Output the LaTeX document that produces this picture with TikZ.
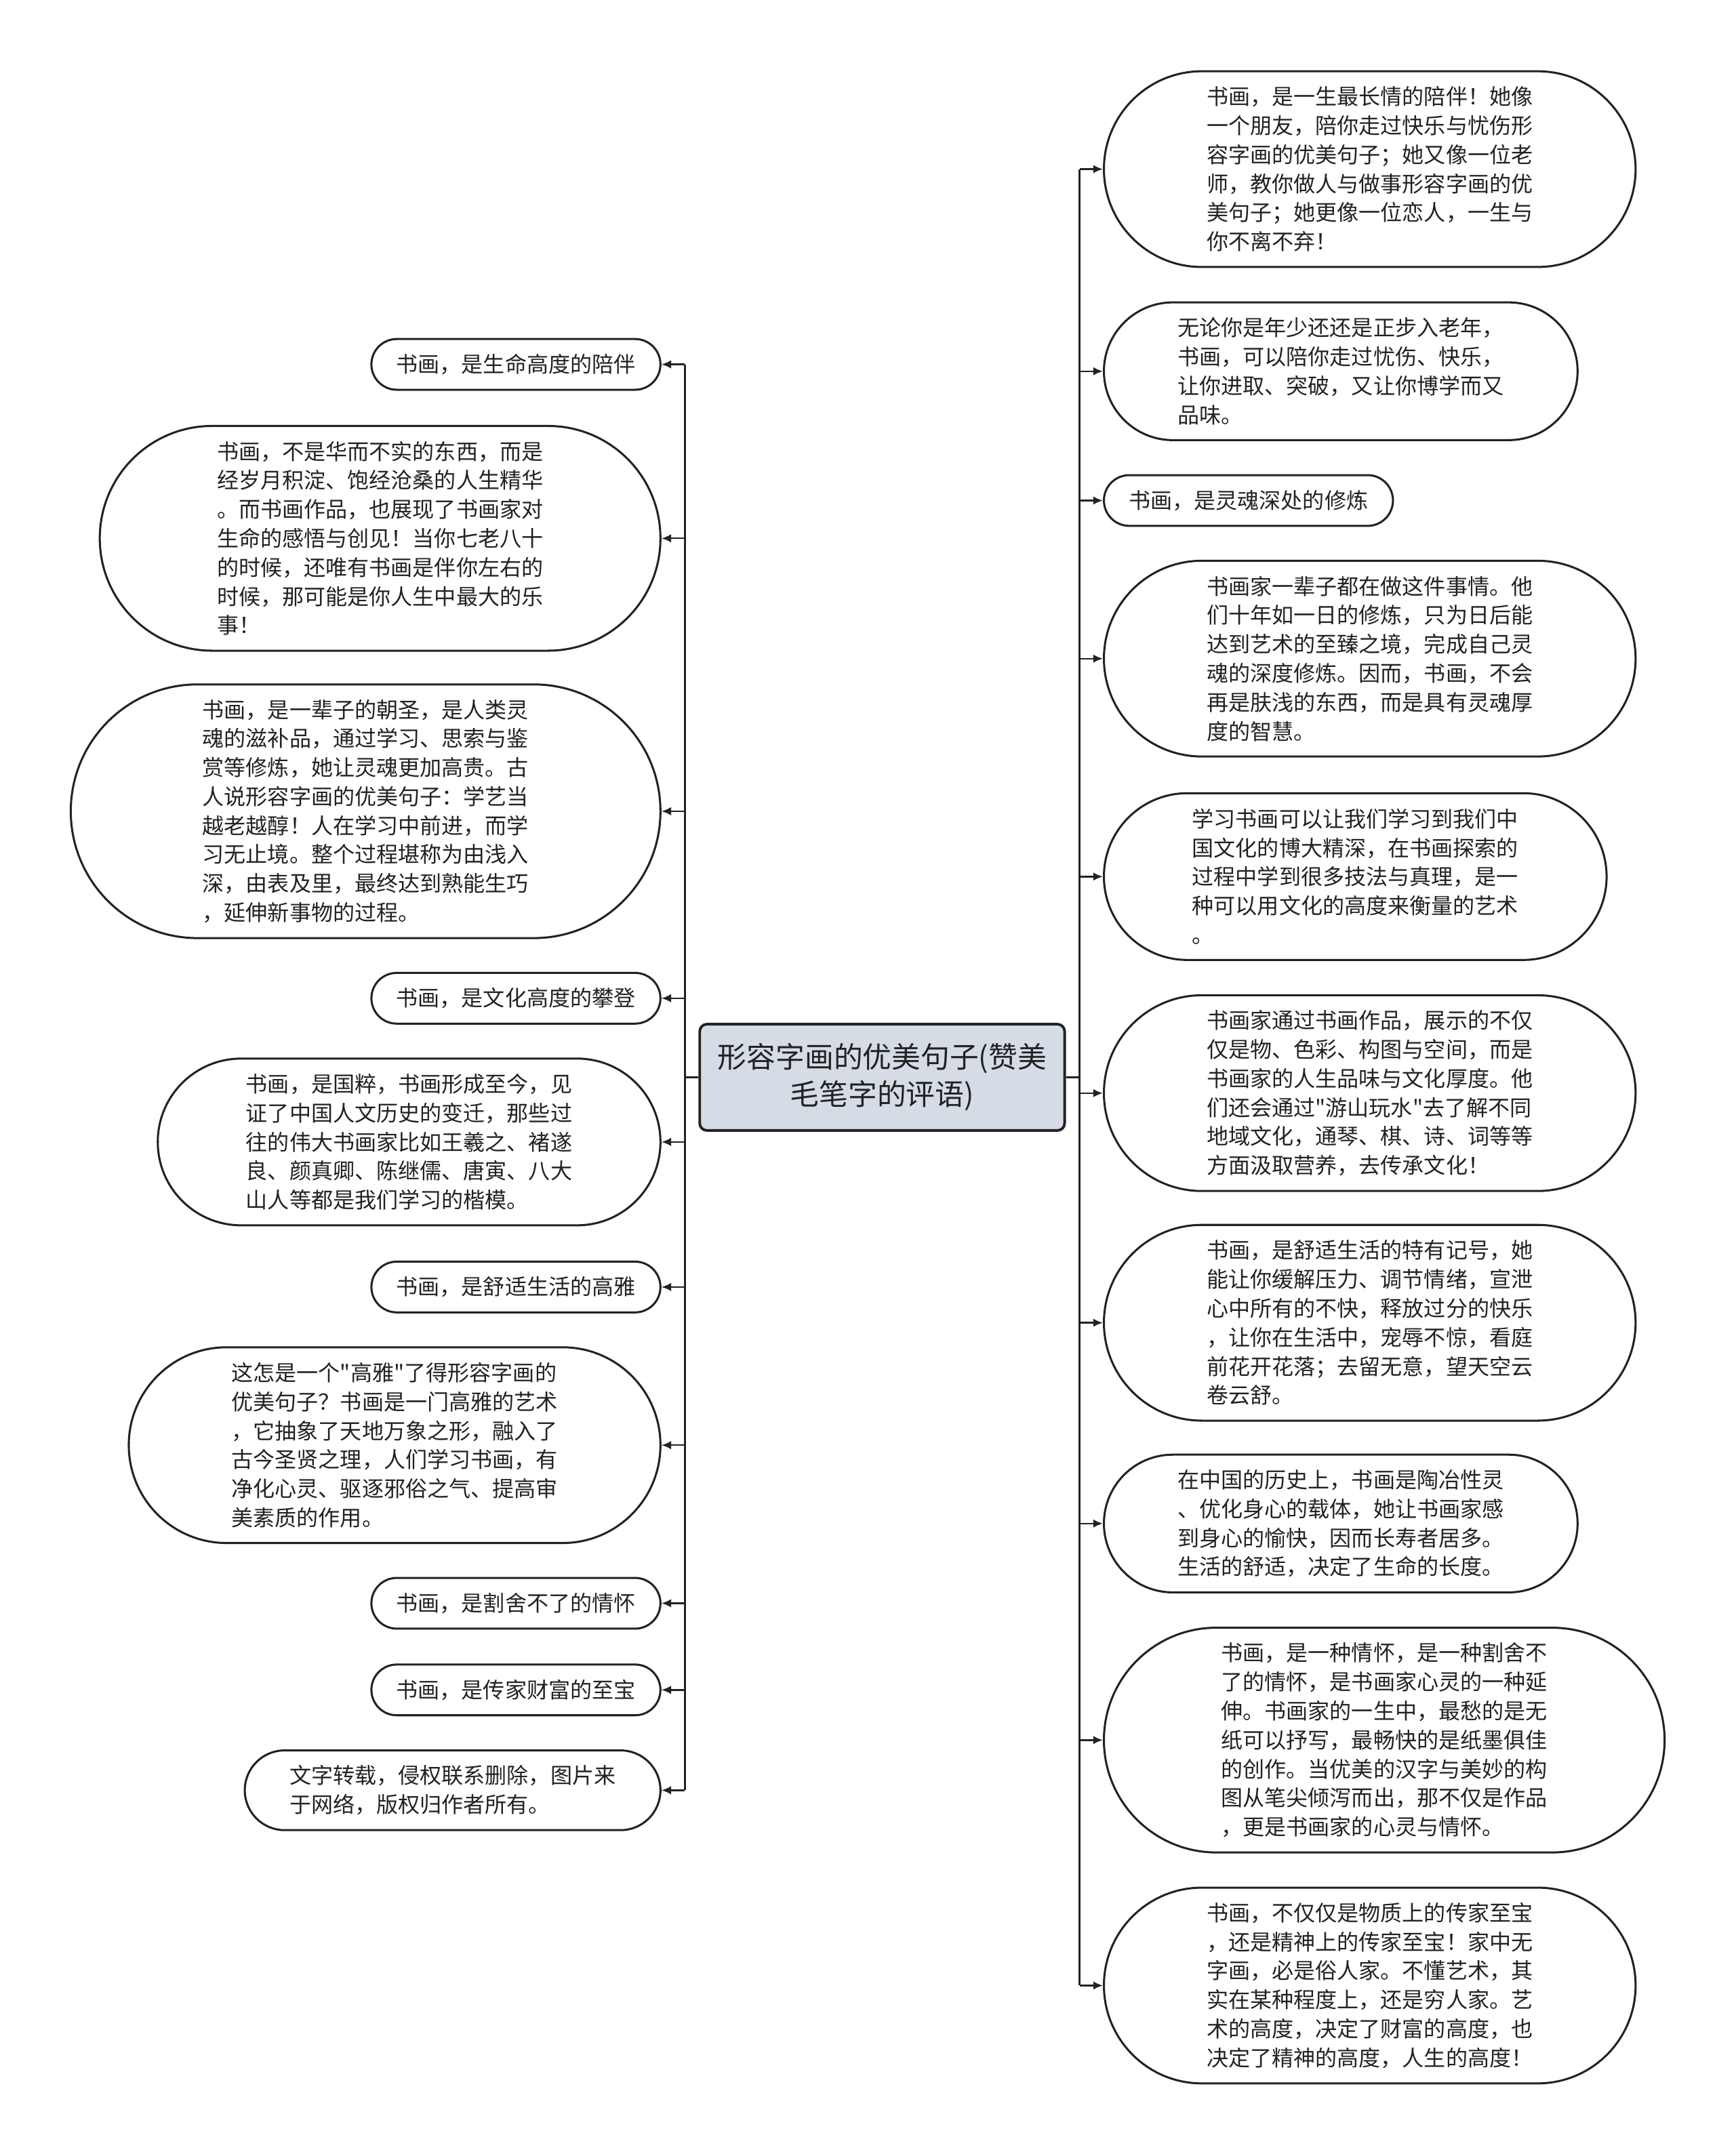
\documentclass[tikz,border=0pt]{standalone}
\usepackage{fontspec}
\setmainfont{Noto Sans CJK SC}[Ligatures=TeXOff]
\usetikzlibrary{arrows.meta}
\definecolor{ink}{HTML}{222222}
\definecolor{rootfill}{HTML}{D5DCE6}

\begin{document}
\begin{tikzpicture}[x=0.2mm,y=-0.2mm,
  leaf/.style={draw=ink,line width=0.85pt,rectangle,align=left,
    inner ysep=0pt,text=ink,font=\fontsize{9}{12}\selectfont},
  rows/.style={minimum height={(#1-1)*12pt+21pt},rounded corners={(#1-1)*6pt+10.49pt},
    inner xsep={(#1-1)*6pt+10.3pt+(#1>1)*2.2pt}},
  topic/.style={draw=ink,line width=1.1pt,fill=rootfill,rounded corners=3pt,align=center,
    minimum width=151pt,minimum height=44pt,text=ink,font=\fontsize{12}{15.4}\selectfont},
  line/.style={draw=ink,line width=0.7pt},
  link/.style={line,-{Latex[length=4pt,width=3.5pt]}}]
\fill[white] (0,0) rectangle (1262,1568);
\useasboundingbox (0,0) rectangle (1262,1568);

\node[topic] (main) at (641.5,783.5) {形容字画的优美句子(赞美\\毛笔字的评语)};

% left side
\node[leaf,rows=1,anchor=east] (l1) at (481,265) {书画，是生命高度的陪伴};
\node[leaf,rows=7,anchor=east] (l2) at (481,391.5) {书画，不是华而不实的东西，而是\\经岁月积淀、饱经沧桑的人生精华\\。而书画作品，也展现了书画家对\\生命的感悟与创见！当你七老八十\\的时候，还唯有书画是伴你左右的\\时候，那可能是你人生中最大的乐\\事！};
\node[leaf,rows=8,anchor=east] (l3) at (481,590) {书画，是一辈子的朝圣，是人类灵\\魂的滋补品，通过学习、思索与鉴\\赏等修炼，她让灵魂更加高贵。古\\人说形容字画的优美句子：学艺当\\越老越醇！人在学习中前进，而学\\习无止境。整个过程堪称为由浅入\\深，由表及里，最终达到熟能生巧\\，延伸新事物的过程。};
\node[leaf,rows=1,anchor=east] (l4) at (481,726) {书画，是文化高度的攀登};
\node[leaf,rows=5,anchor=east] (l5) at (481,830.5) {书画，是国粹，书画形成至今，见\\证了中国人文历史的变迁，那些过\\往的伟大书画家比如王羲之、褚遂\\良、颜真卿、陈继儒、唐寅、八大\\山人等都是我们学习的楷模。};
\node[leaf,rows=1,anchor=east] (l6) at (481,936) {书画，是舒适生活的高雅};
\node[leaf,rows=6,anchor=east] (l7) at (481,1051) {这怎是一个"高雅"了得形容字画的\\优美句子？书画是一门高雅的艺术\\，它抽象了天地万象之形，融入了\\古今圣贤之理，人们学习书画，有\\净化心灵、驱逐邪俗之气、提高审\\美素质的作用。};
\node[leaf,rows=1,anchor=east] (l8) at (481,1166) {书画，是割舍不了的情怀};
\node[leaf,rows=1,anchor=east] (l9) at (481,1229) {书画，是传家财富的至宝};
\node[leaf,rows=2,anchor=east] (l10) at (481,1302) {文字转载，侵权联系删除，图片来\\于网络，版权归作者所有。};

% right side
\node[leaf,rows=6,anchor=west] (r1) at (802,123) {书画，是一生最长情的陪伴！她像\\一个朋友，陪你走过快乐与忧伤形\\容字画的优美句子；她又像一位老\\师，教你做人与做事形容字画的优\\美句子；她更像一位恋人，一生与\\你不离不弃！};
\node[leaf,rows=4,anchor=west] (r2) at (802,270) {无论你是年少还还是正步入老年，\\书画，可以陪你走过忧伤、快乐，\\让你进取、突破，又让你博学而又\\品味。};
\node[leaf,rows=1,anchor=west] (r3) at (802,364) {书画，是灵魂深处的修炼};
\node[leaf,rows=6,anchor=west] (r4) at (802,479) {书画家一辈子都在做这件事情。他\\们十年如一日的修炼，只为日后能\\达到艺术的至臻之境，完成自己灵\\魂的深度修炼。因而，书画，不会\\再是肤浅的东西，而是具有灵魂厚\\度的智慧。};
\node[leaf,rows=5,anchor=west] (r5) at (802,637.5) {学习书画可以让我们学习到我们中\\国文化的博大精深，在书画探索的\\过程中学到很多技法与真理，是一\\种可以用文化的高度来衡量的艺术\\。};
\node[leaf,rows=6,anchor=west] (r6) at (802,795) {书画家通过书画作品，展示的不仅\\仅是物、色彩、构图与空间，而是\\书画家的人生品味与文化厚度。他\\们还会通过"游山玩水"去了解不同\\地域文化，通琴、棋、诗、词等等\\方面汲取营养，去传承文化！};
\node[leaf,rows=6,anchor=west] (r7) at (802,962) {书画，是舒适生活的特有记号，她\\能让你缓解压力、调节情绪，宣泄\\心中所有的不快，释放过分的快乐\\，让你在生活中，宠辱不惊，看庭\\前花开花落；去留无意，望天空云\\卷云舒。};
\node[leaf,rows=4,anchor=west] (r8) at (802,1108) {在中国的历史上，书画是陶冶性灵\\、优化身心的载体，她让书画家感\\到身心的愉快，因而长寿者居多。\\生活的舒适，决定了生命的长度。};
\node[leaf,rows=7,anchor=west] (r9) at (802,1265.5) {书画，是一种情怀，是一种割舍不\\了的情怀，是书画家心灵的一种延\\伸。书画家的一生中，最愁的是无\\纸可以抒写，最畅快的是纸墨俱佳\\的创作。当优美的汉字与美妙的构\\图从笔尖倾泻而出，那不仅是作品\\，更是书画家的心灵与情怀。};
\node[leaf,rows=6,anchor=west] (r10) at (802,1444) {书画，不仅仅是物质上的传家至宝\\，还是精神上的传家至宝！家中无\\字画，必是俗人家。不懂艺术，其\\实在某种程度上，还是穷人家。艺\\术的高度，决定了财富的高度，也\\决定了精神的高度，人生的高度！};

% connectors
\coordinate (lj) at (498,783.5);
\coordinate (rj) at (785,783.5);
\draw[line] (main.west) -- (lj);
\draw[line] (main.east) -- (rj);
\draw[line] (lj |- l1.east) -- (lj |- l10.east);
\draw[line] (rj |- r1.west) -- (rj |- r10.west);
\foreach \i in {1,...,10} {
  \draw[link] (lj |- l\i.east) -- (l\i.east);
  \draw[link] (rj |- r\i.west) -- (r\i.west);
}
\end{tikzpicture}
\end{document}
